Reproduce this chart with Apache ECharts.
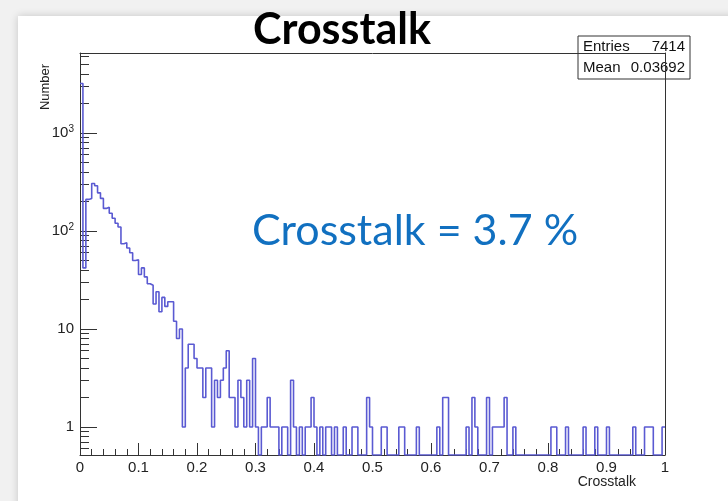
<!DOCTYPE html>
<html>
<head>
<meta charset="utf-8">
<script src="https://cdn.jsdelivr.net/npm/echarts@6/dist/echarts.min.js"></script>
<style>
  html, body { margin: 0; padding: 0; background: #f1f1f1; }
  #chart { width: 728px; height: 501px; }
</style>
</head>
<body>
<div id="chart"></div>
<script>
// Histogram of crosstalk fraction, 200 bins over [0, 1]
const binLow = 0;
const binWidth = 0.005;
const counts = [
  3200, 42, 210, 215, 305, 290, 245, 215, 170, 175, 152, 135, 120, 110, 74, 76, 67, 60, 50, 51,
  36, 42, 34, 29, 28, 18, 24, 15, 21, 17, 19, 19, 12, 8, 10, 1, 4, 7, 7, 5,
  4, 4, 2, 4, 4, 1, 3, 2, 3, 4, 6, 2, 2, 1, 3, 2, 1, 3, 1, 5,
  1, 0, 1, 1, 2, 1, 1, 1, 0, 1, 1, 0, 3, 1, 0, 1, 0, 1, 1, 2,
  1, 0, 1, 0, 1, 1, 0, 1, 0, 0, 1, 0, 0, 1, 1, 0, 0, 0, 2, 1,
  0, 0, 0, 1, 1, 0, 0, 0, 0, 1, 1, 0, 0, 0, 0, 1, 0, 0, 0, 0,
  0, 0, 1, 0, 2, 2, 0, 0, 0, 0, 0, 0, 1, 0, 2, 1, 0, 0, 0, 2,
  0, 1, 1, 1, 1, 2, 0, 0, 1, 0, 0, 0, 0, 0, 0, 0, 0, 0, 0, 0,
  0, 1, 1, 0, 0, 0, 1, 0, 0, 0, 0, 0, 1, 0, 0, 0, 1, 0, 0, 0,
  1, 0, 0, 0, 0, 0, 0, 0, 0, 1, 0, 0, 0, 1, 1, 1, 0, 0, 0, 1
];

// Axis ticks and labels
const xTicks = [0, 0.1, 0.2, 0.3, 0.4, 0.5, 0.6, 0.7, 0.8, 0.9, 1];
const yMajorTicks = [1, 10, 100, 1000];
const yMinorTicks = [0.6, 0.7, 0.8, 0.9, 2, 3, 4, 5, 6, 7, 8, 9,
  20, 30, 40, 50, 60, 70, 80, 90, 200, 300, 400, 500, 600, 700, 800, 900,
  2000, 3000, 4000, 5000, 6000];

// Stats box and captions
const statsEntries = '7414';
const statsMean = '0.03692';
const titleText = 'Crosstalk';
const noteText = 'Crosstalk = 3.7 %';
const xTitle = 'Crosstalk';
const yTitle = 'Number';

const Y_MIN = 0.518;
const Y_MAX = 6550;

// Step outline: left edge of each bin, plus closing right edge.
// Empty bins drop to the bottom of the frame, as on a log scale.
const toPlot = v => (v > 0 ? v : Y_MIN);
const outline = counts.map((c, i) => [binLow + i * binWidth, toPlot(c)]);
outline.push([binLow + counts.length * binWidth, toPlot(counts[counts.length - 1])]);

const axisColor = '#333333';
const labelFont = 'Liberation Sans, Arial, sans-serif';

function yLabel(v) {
  const e = Math.round(Math.log10(v));
  if (e === 0) return '1';
  if (e === 1) return '10';
  return '{b|10}{s|' + e + '}';
}

const chart = echarts.init(document.getElementById('chart'), null, { renderer: 'canvas' });

chart.setOption({
  animation: false,
  backgroundColor: '#f1f1f1',
  grid: { left: 80, right: 63, top: 53, bottom: 46, containLabel: false },
  xAxis: [
    {
      type: 'value', min: 0, max: 1, interval: 0.1, position: 'bottom',
      axisLine: { show: true, onZero: false, lineStyle: { color: axisColor, width: 1 } },
      axisTick: { show: true, inside: true, length: 12, lineStyle: { color: axisColor } },
      minorTick: { show: true, splitNumber: 5, length: 6, lineStyle: { color: axisColor } },
      splitLine: { show: false },
      axisLabel: {
        margin: 5, fontSize: 15, color: '#222', fontFamily: labelFont,
        formatter: v => {
          const t = xTicks.find(x => Math.abs(x - v) < 1e-6);
          return t === undefined ? '' : String(t);
        }
      }
    },
    {
      type: 'value', min: 0, max: 1, position: 'top',
      axisLine: { show: true, onZero: false, lineStyle: { color: axisColor, width: 1 } },
      axisTick: { show: false }, axisLabel: { show: false }, splitLine: { show: false }
    }
  ],
  yAxis: [
    {
      type: 'log', logBase: 10, min: Y_MIN, max: Y_MAX, position: 'left',
      axisLine: { show: true, onZero: false, lineStyle: { color: axisColor, width: 1 } },
      axisTick: { show: true, inside: true, length: 17, customValues: yMajorTicks, lineStyle: { color: axisColor } },
      splitLine: { show: false },
      axisLabel: {
        customValues: yMajorTicks, margin: 6, fontSize: 15, color: '#222', fontFamily: labelFont,
        formatter: yLabel,
        rich: {
          b: { fontSize: 15, fontFamily: labelFont, color: '#222' },
          s: { fontSize: 10, fontFamily: labelFont, color: '#222', verticalAlign: 'top', padding: [0, 0, 8, 0] }
        }
      }
    },
    {
      type: 'log', logBase: 10, min: Y_MIN, max: Y_MAX, position: 'left',
      axisLine: { show: false },
      axisTick: { show: true, inside: true, length: 9, customValues: yMinorTicks, lineStyle: { color: axisColor } },
      axisLabel: { show: false }, splitLine: { show: false }
    },
    {
      type: 'log', logBase: 10, min: Y_MIN, max: Y_MAX, position: 'right',
      axisLine: { show: true, onZero: false, lineStyle: { color: axisColor, width: 1 } },
      axisTick: { show: false }, axisLabel: { show: false }, splitLine: { show: false }
    }
  ],
  series: [
    {
      type: 'line',
      xAxisIndex: 0, yAxisIndex: 0,
      data: outline,
      step: 'end',
      symbol: 'none',
      clip: true,
      lineStyle: { color: '#5a5ad2', width: 1.6 },
      z: 3
    }
  ],
  graphic: [
    {
      type: 'rect', z: -10, silent: true,
      shape: { x: 18, y: 16, width: 720, height: 500 },
      style: { fill: '#ffffff', shadowBlur: 8, shadowColor: 'rgba(0,0,0,0.18)' }
    },
    {
      type: 'text', x: 342, y: 30, z: 10,
      style: { text: titleText, font: 'bold 43px Lato, "Open Sans", sans-serif', fill: '#000', align: 'center', verticalAlign: 'middle' }
    },
    {
      type: 'text', x: 415, y: 231, z: 10,
      style: { text: noteText, font: '43px Lato, "Open Sans", sans-serif', fill: '#1170c0', align: 'center', verticalAlign: 'middle' }
    },
    {
      type: 'text', x: 45, y: 87, rotation: Math.PI / 2, z: 10,
      style: { text: yTitle, font: '13px ' + labelFont, fill: '#222', align: 'center', verticalAlign: 'middle' }
    },
    {
      type: 'text', x: 636, y: 482, z: 10,
      style: { text: xTitle, font: '14px ' + labelFont, fill: '#222', align: 'right', verticalAlign: 'middle' }
    },
    {
      type: 'group', x: 578, y: 36, z: 20,
      children: [
        { type: 'rect', shape: { x: 0, y: 0, width: 112, height: 43 }, style: { fill: '#fff', stroke: '#333', lineWidth: 1 } },
        { type: 'text', x: 5, y: 11, style: { text: 'Entries', font: '15px ' + labelFont, fill: '#111', verticalAlign: 'middle' } },
        { type: 'text', x: 107, y: 11, style: { text: statsEntries, font: '15px ' + labelFont, fill: '#111', align: 'right', verticalAlign: 'middle' } },
        { type: 'text', x: 5, y: 32, style: { text: 'Mean', font: '15px ' + labelFont, fill: '#111', verticalAlign: 'middle' } },
        { type: 'text', x: 107, y: 32, style: { text: statsMean, font: '15px ' + labelFont, fill: '#111', align: 'right', verticalAlign: 'middle' } }
      ]
    }
  ]
});
</script>
</body>
</html>
